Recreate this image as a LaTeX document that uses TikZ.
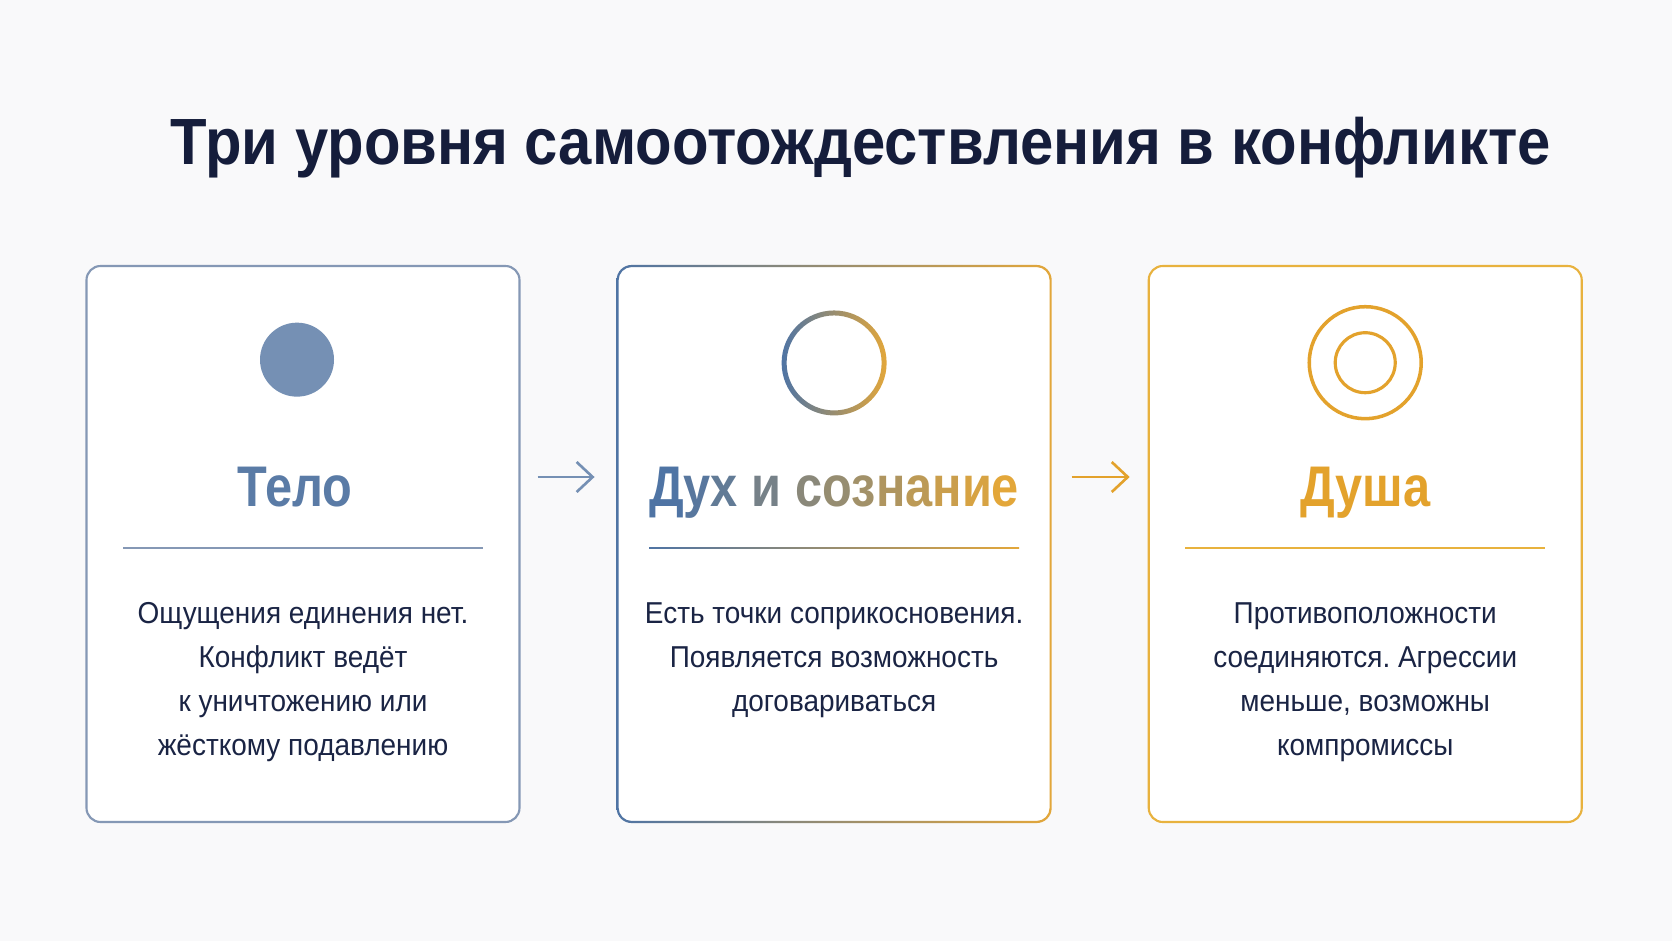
\documentclass[tikz,border=0pt]{standalone}
\usepackage{fontspec}
\setmainfont{Liberation Sans}
\newfontfamily\headfont{Liberation Sans}[FakeStretch=0.85]
\newfontfamily\titlefont{Liberation Sans}[FakeStretch=0.915]
\newfontfamily\bodyfont{Liberation Sans}[FakeStretch=0.925]
\usepackage{xcolor}
\definecolor{PaperBg}{HTML}{F9F9FA}
\definecolor{TitleNavy}{HTML}{151D3B}
\definecolor{InkNavy}{HTML}{1A2444}
\definecolor{TeloBlue}{HTML}{5A7BA6}
\definecolor{TeloDot}{HTML}{7590B4}
\definecolor{TeloLine}{HTML}{8598B5}
\definecolor{SoulBlue}{HTML}{4F74A4}
\definecolor{SoulGold}{HTML}{E3A73A}
\definecolor{DushaGold}{HTML}{E3A22C}
\definecolor{DushaLine}{HTML}{E8B23E}
\usetikzlibrary{positioning, arrows.meta, calc}
\frenchspacing

% one letter of a blue-to-gold heading
\newcommand{\gl}[2]{\textcolor{SoulBlue!#1!SoulGold}{#2}}

\begin{document}
\begin{tikzpicture}[
  node distance = 0.96cm,
  card/.style     = {draw, rounded corners=4pt, minimum width=4.33cm,
                     minimum height=5.56cm, line width=0.6pt, fill=white},
  heading/.style  = {anchor=base, inner sep=0pt,
                     font=\headfont\bfseries\fontsize{16.3}{19}\selectfont},
  bodytext/.style = {anchor=north, align=center, inner sep=0pt, text=InkNavy,
                     font=\bodyfont\fontsize{8.6}{12.5}\selectfont},
  sepline/.style  = {line width=0.45pt},
  flow/.style     = {-{Straight Barb[length=1.6mm, width=3mm]}, line width=0.75pt}
]

  % page
  \fill[PaperBg] (0,0) rectangle (16.72,-9.41);

  % title
  \node[anchor=base, text=TitleNavy,
        font=\titlefont\bfseries\fontsize{18.6}{22}\selectfont] (title) at (8.61,-1.64)
    {Три уровня самоотождествления в конфликте};

  % rows
  \coordinate (headrow) at (0,-5.06);
  \coordinate (seprow)  at (0,-5.48);
  \coordinate (bodyrow) at (0,-6.02);

  % cards
  \node[card, draw=TeloLine] (telo) at (3.03,-5.44) {};
  \node[card, draw=none, right=of telo] (duh) {};
  \node[card, draw=DushaLine, right=of duh] (dusha) {};

  % gradient border of the middle card
  \shade[left color=SoulBlue, right color=SoulGold, even odd rule]
    [rounded corners=4.3pt] (duh.north west) rectangle (duh.south east)
    [rounded corners=3.7pt] ($(duh.north west)+(0.6pt,-0.6pt)$) rectangle ($(duh.south east)+(-0.6pt,0.6pt)$);

  % icons
  \node[circle, fill=TeloDot, minimum size=0.74cm, inner sep=0pt,
        below=0.57cm of telo.north, xshift=-0.06cm] (teloicon) {};
  \coordinate[below=0.98cm of duh.north] (duhicon);
  \shade[left color=SoulBlue, right color=SoulGold, even odd rule]
    (duhicon) circle[radius=0.525cm] (duhicon) circle[radius=0.475cm];
  \node[circle, draw=DushaGold, line width=1pt, minimum size=1.12cm, inner sep=0pt,
        below=0.40cm of dusha.north] (dushaicon) {};
  \node[circle, draw=DushaGold, line width=0.9pt, minimum size=0.6cm,
        inner sep=0pt] (dushacore) at (dushaicon) {};

  % headings
  \node[heading, text=TeloBlue, xshift=-0.08cm] (telohead) at (telo |- headrow) {Тело};
  \node[heading] (duhhead) at (duh |- headrow)
    {\gl{100}{Д}\gl{94}{у}\gl{87}{х} \gl{74}{и} \gl{60}{с}\gl{52}{о}\gl{44}{з}\gl{35}{н}\gl{26}{а}\gl{17}{н}\gl{8}{и}\gl{0}{е}};
  \node[heading, text=DushaGold] (dushahead) at (dusha |- headrow) {Душа};

  % separators
  \draw[sepline, TeloLine] ($(telo |- seprow)+(-1.8,0)$) -- ($(telo |- seprow)+(1.8,0)$);
  \shade[left color=SoulBlue, right color=SoulGold]
    ($(duh |- seprow)+(-1.85,0.0035)$) rectangle ($(duh |- seprow)+(1.85,-0.0035)$);
  \draw[sepline, DushaLine] ($(dusha |- seprow)+(-1.8,0)$) -- ($(dusha |- seprow)+(1.8,0)$);

  % texts
  \node[bodytext] (telotext) at (telo |- bodyrow)
    {Ощущения единения нет.\\ Конфликт ведёт\\ к уничтожению или\\ жёсткому подавлению};
  \node[bodytext] (duhtext) at (duh |- bodyrow)
    {Есть точки соприкосновения.\\ Появляется возможность\\ договариваться};
  \node[bodytext] (dushatext) at (dusha |- bodyrow)
    {Противоположности\\ соединяются. Агрессии\\ меньше, возможны\\ компромиссы};

  % arrows between cards
  \draw[flow, TeloDot] ($(telo.east)+(0.17,0.67)$) -- ($(duh.west)+(-0.22,0.67)$);
  \draw[flow, DushaGold] ($(duh.east)+(0.20,0.67)$) -- ($(dusha.west)+(-0.18,0.67)$);

\end{tikzpicture}
\end{document}
